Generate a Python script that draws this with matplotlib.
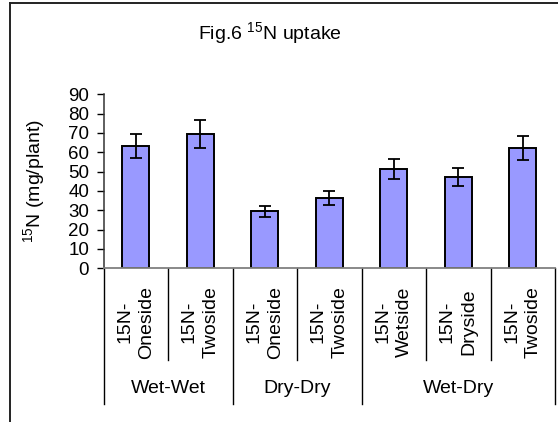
import matplotlib
matplotlib.use("Agg")
import matplotlib.pyplot as plt
from matplotlib.lines import Line2D
from matplotlib.transforms import blended_transform_factory
import numpy as np

plt.rcParams['font.family'] = ['Liberation Sans', 'DejaVu Sans']
plt.rcParams['mathtext.fontset'] = 'custom'
plt.rcParams['mathtext.rm'] = 'Liberation Sans'
plt.rcParams['mathtext.default'] = 'regular'

# Treatments and 15N uptake (mg/plant) with error bars
groups = ["Wet-Wet", "Dry-Dry", "Wet-Dry"]
group_sizes = [2, 2, 3]
categories = ["15N-\nOneside", "15N-\nTwoside",
              "15N-\nOneside", "15N-\nTwoside",
              "15N-\nWetside", "15N-\nDryside", "15N-\nTwoside"]
uptake = [63.3, 69.3, 29.5, 36.2, 51.4, 47.2, 62.2]
errors = [6.3, 7.2, 2.9, 3.7, 5.0, 4.6, 6.3]
yticks = [0, 10, 20, 30, 40, 50, 60, 70, 80, 90]

W, H = 558, 422
fig = plt.figure(figsize=(W / 100, H / 100), dpi=100)
ax = fig.add_axes([103.5 / W, 1 - 268.3 / H, (555 - 103.5) / W, (268.3 - 94.3) / H])

x = np.arange(len(uptake)) + 0.5
ax.bar(x, uptake, width=0.42, color="#9999FF", edgecolor="black", linewidth=1.4, zorder=2)
ax.errorbar(x, uptake, yerr=errors, fmt="none", ecolor="black", elinewidth=1.3,
            capsize=4.5, capthick=1.3, zorder=3)

ax.set_xlim(0, len(uptake))
ax.set_ylim(0, 90)
ax.set_yticks(yticks)
ax.tick_params(axis="y", labelsize=13.5, length=4.8, width=1, direction="out", pad=5.5)
ax.set_xticks([])
for s in ["top", "right"]:
    ax.spines[s].set_visible(False)
ax.spines["left"].set_color("#333333")
ax.spines["bottom"].set_color("#808080")
ax.spines["left"].set_linewidth(1.1)
ax.spines["bottom"].set_linewidth(1.3)

ax.set_ylabel("$^{15}$N (mg/plant)", fontsize=14)
ax.yaxis.set_label_coords(-0.126, 0.5)

trans = blended_transform_factory(ax.transData, ax.transAxes)

# category labels and dividers below the axis
for xi, lab in zip(x, categories):
    ax.text(xi, -0.309, lab, rotation=90, ha="center", va="center", fontsize=14,
            linespacing=1.35, multialignment="center", transform=trans)

bounds = np.cumsum([0] + group_sizes)
for b in range(len(uptake) + 1):
    bottom = -0.78 if b in bounds else -0.527
    ax.add_line(Line2D([b, b], [0, bottom], transform=trans, color="black",
                       linewidth=1.0, clip_on=False))

for g, lo, hi in zip(groups, bounds[:-1], bounds[1:]):
    ax.text((lo + hi) / 2, -0.688, g, ha="center", va="center", fontsize=14,
            transform=trans)

fig.text(270 / W, 1 - 33 / H, "Fig.6 $^{15}$N uptake", ha="center", va="center",
         fontsize=14)

# outer chart frame
fig.add_artist(Line2D([9.5 / W, 9.5 / W], [0, 1 - 3.3 / H], transform=fig.transFigure,
                      color="#222222", linewidth=1.4))
fig.add_artist(Line2D([9.5 / W, 1], [1 - 3.3 / H, 1 - 3.3 / H], transform=fig.transFigure,
                      color="#222222", linewidth=1.4))

fig.savefig("out.png", dpi=100)
